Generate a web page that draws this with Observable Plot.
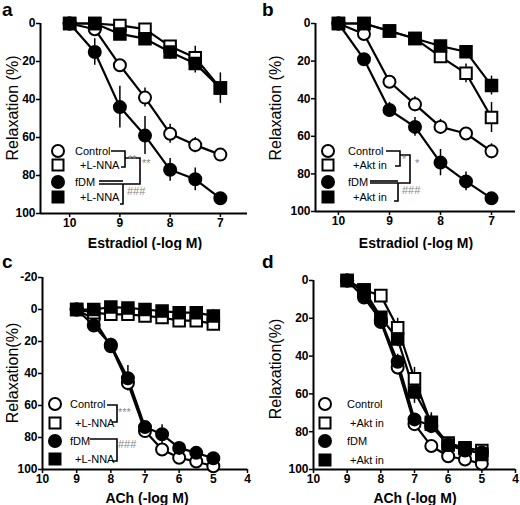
<!DOCTYPE html>
<html><head><meta charset="utf-8">
<script src="https://cdn.jsdelivr.net/npm/d3@7"></script>
<script src="https://cdn.jsdelivr.net/npm/@observablehq/plot@0.6"></script>
<style>
body{margin:0;background:#fff;}
#fig{position:relative;width:520px;height:505px;font-family:"Liberation Sans",Arial,sans-serif;}
.panel{position:absolute;}
</style></head><body><div id="fig"></div>
<script>
// ---- data ----
const estradiolDoses = [10, 9.5, 9, 8.5, 8, 7.5, 7];
const achDoses = [9, 8.5, 8, 7.5, 7, 6.5, 6, 5.5, 5];
const estradiolTicks = [10, 9, 8, 7];
const achTicks = [10, 9, 8, 7, 6, 5, 4];
const relaxTicks = [0, 20, 40, 60, 80, 100];
const relaxTicksC = [-20, 0, 20, 40, 60, 80, 100];

// panel a (Estradiol, L-NNA)
const aControl = [0, 3, 22, 39, 58, 64, 69];
const aControlErr = [0, 1.5, 2, 5, 5, 4, 3];
const aLNNA = [0, 0, 1, 3, 12, 18, 34];
const aLNNAErr = [0, 0, 1, 1, 3, 6, 0];
const afDM = [0, 15, 44, 59, 77, 82, 92];
const afDMErr = [0, 7, 11, 10, 6, 6, 1];
const afDMLNNA = [0, 0, 5.5, 8, 15, 21, 34];
const afDMLNNAErr = [0, 0, 2, 2, 4, 5, 8];

// panel b (Estradiol, Akt inhibitor)
const bControl = [0, 5.6, 31, 43, 55, 58.5, 68];
const bControlErr = [0, 1, 2, 4, 4, 3, 4];
const bAkt = [0, 0, 4, 8, 17.6, 26.5, 50];
const bAktErr = [0, 0, 1, 1, 3, 5, 8];
const bfDM = [0, 19, 46, 55, 74, 84, 93];
const bfDMErr = [0, 1, 4, 5, 7, 5, 1];
const bfDMAkt = [0, 0, 4, 8, 12, 15, 33];
const bfDMAktErr = [0, 0, 1, 1, 3, 2, 5];

// panel c (ACh, L-NNA)
const cControl = [0, 6, 23, 46, 76, 87.5, 92.7, 95, 98];
const cControlErr = [0, 1, 2, 4, 3, 2, 2, 1, 1];
const cLNNA = [0, 2, 3, 3, 4, 5, 7, 7, 9];
const cLNNAErr = [0, 1, 1, 1, 1, 1, 1, 1, 2];
const cfDM = [0, 10, 22, 43, 73.5, 78, 86.5, 89.6, 93];
const cfDMErr = [0, 2, 4, 8, 3, 6, 2, 2, 1];
const cfDMLNNA = [0, 0, -1.5, -1, 0, 1, 2, 2, 4];
const cfDMLNNAErr = [0, 1, 1, 1, 1, 1, 1, 1, 4];

// panel d (ACh, Akt inhibitor)
const dControl = [0, 6, 22, 46, 76, 87.6, 93, 94.7, 97];
const dControlErr = [0, 1, 3, 4, 3, 2, 1, 1, 1];
const dAkt = [0, 5, 8, 25, 52, 76, 86, 88.5, 90];
const dAktErr = [0, 1, 2, 5, 6, 5, 2, 2, 2];
const dfDM = [0, 9, 21, 43, 73.5, 77, 87, 90, 91];
const dfDMErr = [0, 2, 3, 4, 3, 4, 2, 2, 1];
const dfDMAkt = [0, 5, 19.5, 31, 59, 75, 87, 89, 92];
const dfDMAktErr = [0, 1, 3, 4, 6, 5, 2, 2, 2];

const labelsLNNA = ["Control", "+L-NNA", "fDM", "+L-NNA"];
const labelsAkt = ["Control", "+Akt in", "fDM", "+Akt in"];

// ---- styles / layout ----
const styles = [
  {symbol: "circle", fill: "white"},
  {symbol: "square", fill: "white"},
  {symbol: "circle", fill: "black"},
  {symbol: "square", fill: "black"}
];

const panels = [
  {tag: "a", left: 0, top: 0, width: 260, height: 250, m: [23, 13, 37, 40],
   xDomain: [10.58, 6.46], xTicks: estradiolTicks, yDomain: [0, 100], yTicks: relaxTicks,
   x: estradiolDoses, ys: [aControl, aLNNA, afDM, afDMLNNA], es: [aControlErr, aLNNAErr, afDMErr, afDMLNNAErr],
   xTitle: "Estradiol (-log M)", yTitle: "Relaxation (%)",
   tagPos: [2, 16], xTitlePos: [145, 248], yTitlePos: [12, 108],
   legend: {symX: 58, ys: [151, 165, 182, 197], labelX: [75, 80, 75, 80], labels: labelsLNNA,
     paths: ["M111,151H125V167H121", "M125,158H140V184H99", "M99,181H123", "M123,184V204H120"],
     stars: [["**", 128, 163], ["**", 142, 167], ["###", 127, 195]]}},
  {tag: "b", left: 260, top: 0, width: 260, height: 250, m: [23, 5, 39, 55],
   xDomain: [10.45, 6.53], xTicks: estradiolTicks, yDomain: [0, 100], yTicks: relaxTicks,
   x: estradiolDoses, ys: [bControl, bAkt, bfDM, bfDMAkt], es: [bControlErr, bAktErr, bfDMErr, bfDMAktErr],
   xTitle: "Estradiol (-log M)", yTitle: "Relaxation (%)",
   tagPos: [2, 16], xTitlePos: [156, 248], yTitlePos: [15, 108],
   legend: {symX: 68, ys: [151, 165, 182, 197], labelX: [88, 93, 88, 93], labels: labelsAkt,
     paths: ["M126,151H140V166H135", "M140,155H150V183H110", "M110,181H138", "M138,183V201H134"],
     stars: [["*", 142, 163], ["*", 155, 167], ["###", 142, 194]]}},
  {tag: "c", left: 0, top: 250, width: 260, height: 255, m: [27, 13, 36, 42],
   xDomain: [10, 4], xTicks: achTicks, yDomain: [-20, 100], yTicks: relaxTicksC,
   x: achDoses, ys: [cControl, cLNNA, cfDM, cfDMLNNA], es: [cControlErr, cLNNAErr, cfDMErr, cfDMLNNAErr],
   xTitle: "ACh (-log M)", yTitle: "Relaxation(%)",
   tagPos: [2, 18], xTitlePos: [147, 253], yTitlePos: [12, 123],
   legend: {symX: 55, ys: [154, 173, 191, 209], labelX: [70, 75, 70, 75], labels: labelsLNNA,
     paths: ["M107,155H117V172H112", "M90,189H117V211H112"],
     stars: [["***", 118, 166], ["###", 118, 198]]}},
  {tag: "d", left: 260, top: 250, width: 260, height: 255, m: [30, 5, 36, 53],
   xDomain: [10, 4], xTicks: achTicks, yDomain: [0, 100], yTicks: relaxTicks,
   x: achDoses, ys: [dControl, dAkt, dfDM, dfDMAkt], es: [dControlErr, dAktErr, dfDMErr, dfDMAktErr],
   xTitle: "ACh (-log M)", yTitle: "Relaxation(%)",
   tagPos: [2, 18], xTitlePos: [155, 253], yTitlePos: [15, 119],
   legend: {symX: 65, ys: [154, 173, 191, 210], labelX: [87, 90, 87, 90], labels: labelsAkt,
     paths: [], stars: []}}
];

const fig = document.getElementById("fig");
const fmt = d => String(d);

panels.forEach(p => {
  const rows = p.ys.flatMap((ys, k) => p.x.map((x, j) => ({x, y: ys[j], e: p.es[k][j], k})));
  const [mt, mr, mb, ml] = p.m;
  const svgEl = Plot.plot({
    width: p.width, height: p.height,
    marginTop: mt, marginRight: mr, marginBottom: mb, marginLeft: ml,
    style: {fontFamily: "'Liberation Sans', Arial, sans-serif", fontSize: "12px", fontWeight: "bold", background: "white", overflow: "visible"},
    x: {domain: p.xDomain},
    y: {domain: p.yDomain, reverse: true},
    marks: [
      Plot.axisX({ticks: p.xTicks, tickFormat: fmt, tickSize: 4, tickPadding: 1, label: null, strokeWidth: 1.5, fontSize: 12, fontWeight: "bold"}),
      Plot.axisY({ticks: p.yTicks, tickFormat: fmt, tickSize: 4, tickPadding: 1, label: null, strokeWidth: 1.5, fontSize: 12, fontWeight: "bold"}),
      Plot.ruleY([p.yDomain[1]], {strokeWidth: 2}),
      Plot.ruleX([p.xDomain[0]], {y1: p.yDomain[0], y2: p.yDomain[1], strokeWidth: 2}),
      ...p.ys.map((_, k) => Plot.line(rows.filter(r => r.k === k), {x: "x", y: "y", stroke: "black", strokeWidth: 2.2})),
      Plot.ruleX(rows.filter(r => r.e > 0), {x: "x", y1: r => r.y - r.e, y2: r => r.y + r.e, stroke: "black", strokeWidth: 1.5}),
      ...styles.map((st, k) => Plot.dot(rows.filter(r => r.k === k), {
        x: "x", y: "y", symbol: st.symbol, fill: st.fill, stroke: "black", strokeWidth: 2,
        r: st.symbol === "square" ? 6.5 : 6
      }))
    ]
  });
  const div = document.createElement("div");
  div.className = "panel";
  div.style.left = p.left + "px";
  div.style.top = p.top + "px";
  div.appendChild(svgEl);
  fig.appendChild(div);

  const svg = d3.select(svgEl);
  const g = svg.append("g").attr("font-family", "'Liberation Sans', Arial, sans-serif").attr("text-anchor", "start");
  // panel tag
  g.append("text").attr("x", p.tagPos[0]).attr("y", p.tagPos[1])
    .attr("font-size", 19).attr("font-weight", "bold").text(p.tag);
  // axis titles
  g.append("text").attr("x", p.xTitlePos[0]).attr("y", p.xTitlePos[1])
    .attr("text-anchor", "middle").attr("font-size", 14).attr("font-weight", "bold").text(p.xTitle);
  g.append("text").attr("transform", `translate(${p.yTitlePos[0]},${p.yTitlePos[1]}) rotate(-90)`)
    .attr("text-anchor", "middle").attr("dy", "0.35em").attr("font-size", 16).attr("font-weight", "normal").text(p.yTitle);
  // legend
  const L = p.legend;
  L.paths.forEach(d => g.append("path").attr("d", d).attr("fill", "none").attr("stroke", "black").attr("stroke-width", 1.6));
  styles.forEach((st, k) => {
    if (st.symbol === "circle") {
      g.append("circle").attr("cx", L.symX).attr("cy", L.ys[k]).attr("r", 6)
        .attr("fill", st.fill).attr("stroke", "black").attr("stroke-width", 2);
    } else {
      g.append("rect").attr("x", L.symX - 5.5).attr("y", L.ys[k] - 5.5).attr("width", 11).attr("height", 11)
        .attr("fill", st.fill).attr("stroke", "black").attr("stroke-width", 2);
    }
    g.append("text").attr("x", L.labelX[k]).attr("y", L.ys[k]).attr("dy", "0.35em")
      .attr("font-size", 11).attr("font-weight", "normal").text(L.labels[k]);
  });
  L.stars.forEach(([t, x, y]) => g.append("text").attr("x", x).attr("y", y)
    .attr("font-size", 11).attr("font-weight", "normal").attr("fill", "#888").text(t));
});
</script></body></html>
